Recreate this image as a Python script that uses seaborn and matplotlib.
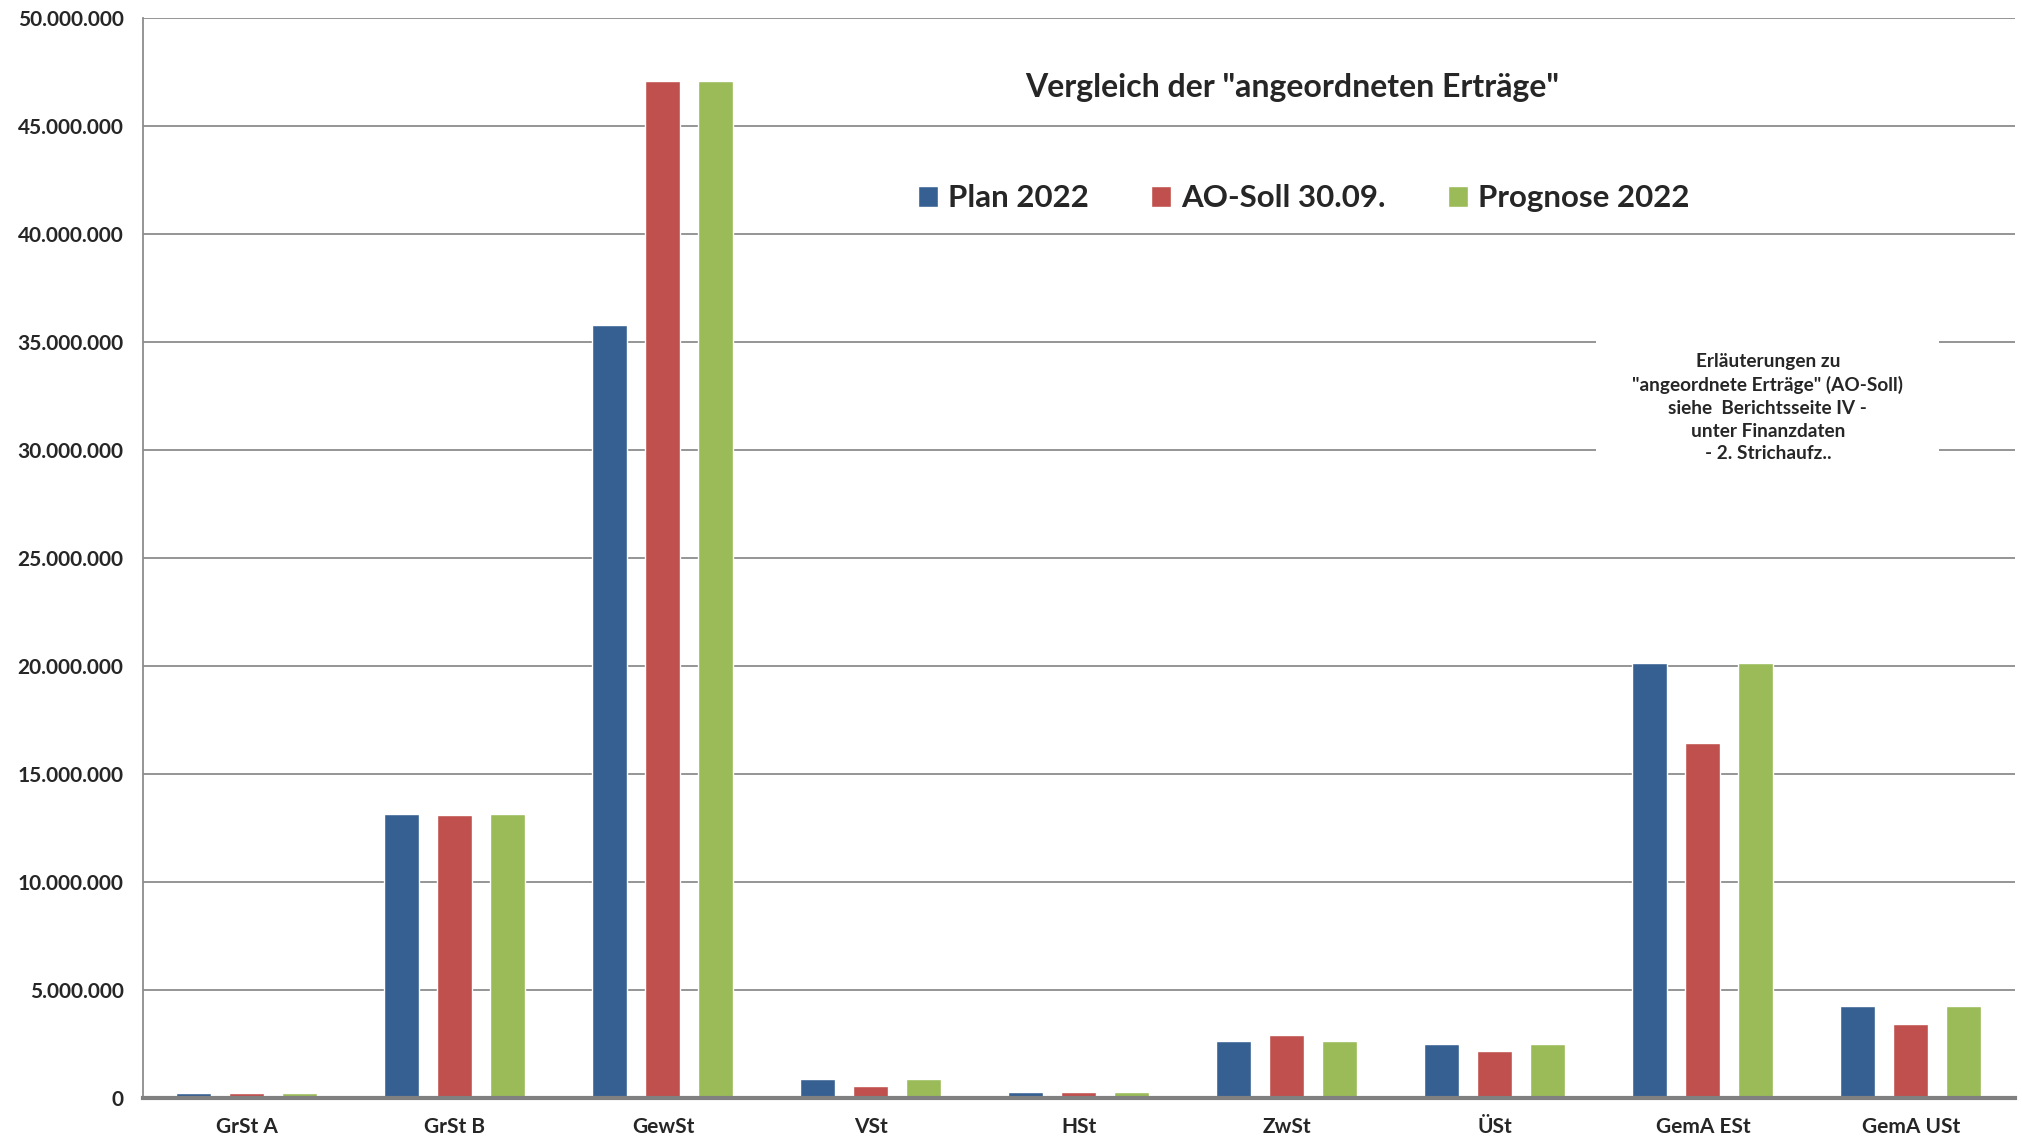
import numpy as np
import pandas as pd
import matplotlib
matplotlib.use("Agg")
import matplotlib.pyplot as plt
from matplotlib.ticker import FuncFormatter
import seaborn as sns

# Daten (in Euro)
steuern = ["GrSt A", "GrSt B", "GewSt", "VSt", "HSt", "ZwSt", "ÜSt", "GemA ESt", "GemA USt"]
plan_2022 = [200000, 13120000, 35770000, 850000, 250000, 2620000, 2490000, 20130000, 4230000]
ao_soll = [200000, 13070000, 47070000, 540000, 270000, 2890000, 2150000, 16430000, 3400000]
prognose_2022 = [200000, 13120000, 47070000, 850000, 250000, 2620000, 2490000, 20130000, 4230000]
reihen = ["Plan 2022", "AO-Soll 30.09.", "Prognose 2022"]
farben = ["#376092", "#C0504D", "#9BBB59"]

df = pd.DataFrame({"Steuer": steuern, reihen[0]: plan_2022,
                   reihen[1]: ao_soll, reihen[2]: prognose_2022})
df = df.melt(id_vars="Steuer", var_name="Reihe", value_name="Betrag")

sns.set_theme(style="white")
plt.rcParams["font.family"] = ["Lato", "DejaVu Sans"]
plt.rcParams["font.weight"] = "bold"

fig = plt.figure(figsize=(20.22, 11.44), dpi=100)
ax = fig.add_axes([0.0707, 0.0405, 0.9258, 0.9438])

sns.barplot(data=df, x="Steuer", y="Betrag", hue="Reihe", order=steuern,
            hue_order=reihen, palette=farben, saturation=1,
            width=0.765, gap=0.34, ax=ax)

ax.set_xlim(-0.5, 8.5)
ax.set_ylim(0, 50000000)
ax.set_yticks(np.arange(0, 50000001, 5000000))
ax.yaxis.set_major_formatter(FuncFormatter(lambda v, p: f"{v:,.0f}".replace(",", ".")))
ax.set_xlabel("")
ax.set_ylabel("")

ax.yaxis.grid(True, color="#8c8c8c", linewidth=1.3)
ax.set_axisbelow(True)
for s in ["top", "right"]:
    ax.spines[s].set_visible(False)
ax.spines["left"].set_color("#8c8c8c")
ax.spines["left"].set_linewidth(1.3)
ax.spines["bottom"].set_color("#808080")
ax.spines["bottom"].set_linewidth(3)

ax.tick_params(axis="y", length=0, pad=14, labelsize=15)
ax.tick_params(axis="x", length=0, pad=14, labelsize=15)
for lbl in ax.get_xticklabels() + ax.get_yticklabels():
    lbl.set_fontweight("bold")

# Titel im Diagramm
ax.text(0.614, 0.936, 'Vergleich der "angeordneten Erträge"', transform=ax.transAxes,
        ha="center", va="center", fontsize=23, fontweight="bold")

# Legende
handles, labels = ax.get_legend_handles_labels()
ax.legend(handles, labels, loc="center", bbox_to_anchor=(0.62, 0.833), ncol=3,
          frameon=False, handlelength=0.65, handleheight=0.65, handletextpad=0.3,
          columnspacing=2.0, prop={"size": 22.5, "weight": "bold"})

# Hinweisbox
ax.text(0.868, 0.639,
        'Erläuterungen zu\n"angeordnete Erträge" (AO-Soll)\nsiehe  Berichtsseite IV -\nunter Finanzdaten\n- 2. Strichaufz..',
        transform=ax.transAxes, ha="center", va="center", fontsize=13.7, fontweight="bold",
        linespacing=1.4,
        bbox=dict(facecolor="white", edgecolor="none", pad=26))

fig.savefig("out.png", dpi=100)
